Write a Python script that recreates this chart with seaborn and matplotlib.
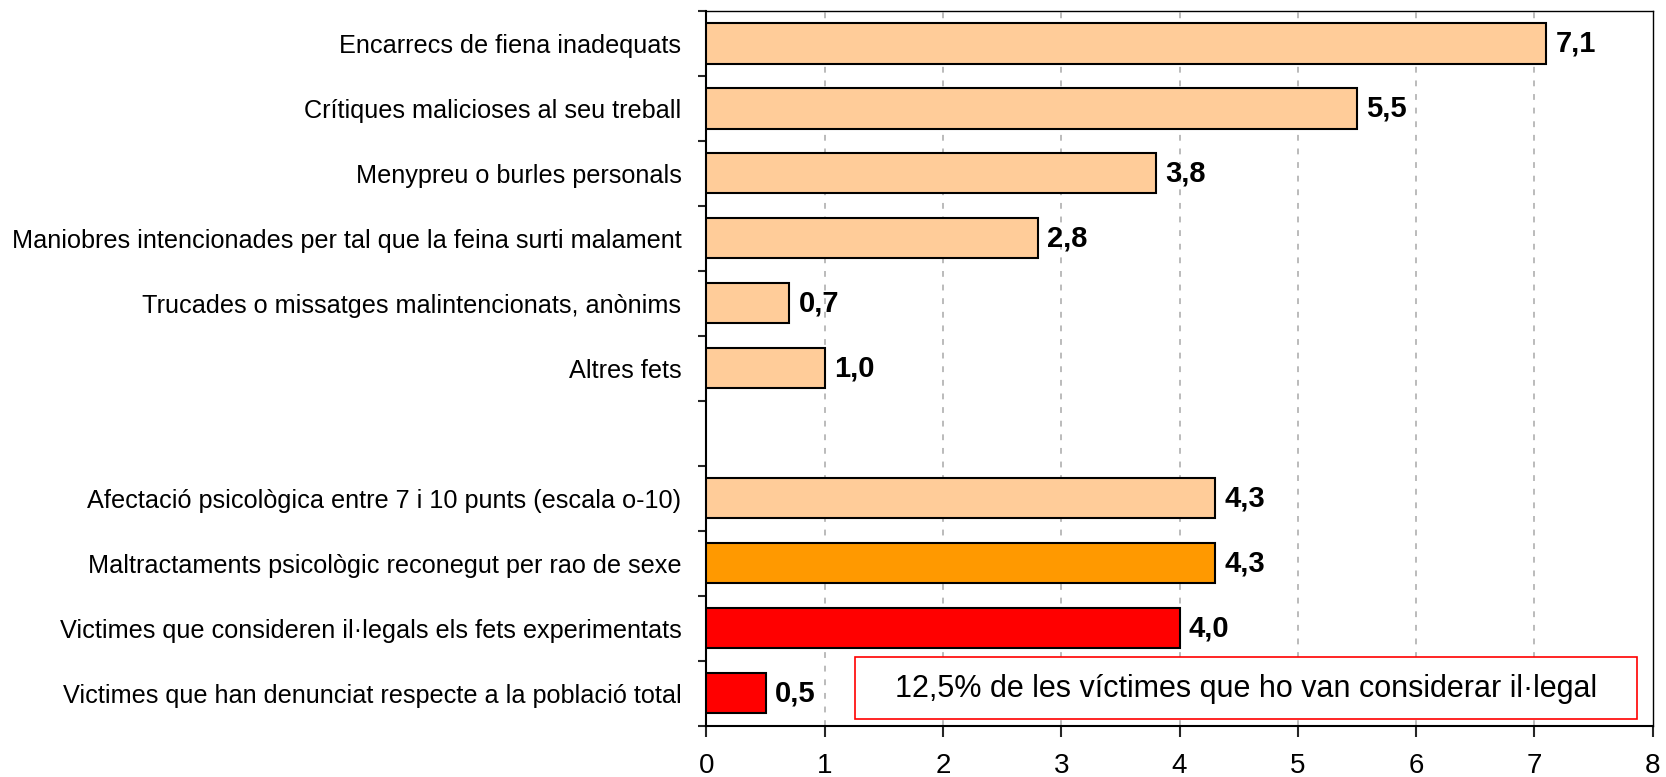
import numpy as np
import pandas as pd
import matplotlib
matplotlib.use("Agg")
import matplotlib.pyplot as plt
import matplotlib.patches as mpatches
import seaborn as sns

# --- dades ---
categories = [
    "Encarrecs de fiena inadequats",
    "Crítiques malicioses al seu treball",
    "Menypreu o burles personals",
    "Maniobres intencionades per tal que la feina surti malament",
    "Trucades o missatges malintencionats, anònims",
    "Altres fets",
    " ",
    "Afectació psicològica entre 7 i 10 punts (escala o-10)",
    "Maltractaments psicològic reconegut per rao de sexe",
    "Victimes que consideren il·legals els fets experimentats",
    "Victimes que han denunciat respecte a la població total",
]
values = [7.1, 5.5, 3.8, 2.8, 0.7, 1.0, np.nan, 4.3, 4.3, 4.0, 0.5]
colors = ["#FFCC99"] * 7 + ["#FFCC99", "#FF9900", "#FF0000", "#FF0000"]
note = "12,5% de les víctimes que ho van considerar il·legal"

df = pd.DataFrame({"cat": categories, "val": values})

sns.set_style("white")
plt.rcParams["font.family"] = ["Liberation Sans", "DejaVu Sans"]

fig = plt.figure(figsize=(16.66, 7.77), dpi=100)
ax = fig.add_axes([0.424, 0.066, 0.568, 0.920])

sns.barplot(data=df, y="cat", x="val", hue="cat", palette=colors, order=categories,
            legend=False, orient="h", width=0.62, saturation=1, edgecolor="black",
            linewidth=1.5, ax=ax, zorder=3)

ax.set_xlim(0, 8)
ax.set_ylim(len(categories) - 0.5, -0.5)
ax.set_xlabel("")
ax.set_ylabel("")

# gridlines
for gx in range(1, 8):
    ax.axvline(gx, color="#BBBBBB", linestyle=(0, (3, 4)), linewidth=1.4, zorder=1)

# ticks
ax.set_xticks(range(0, 9))
ax.tick_params(axis="x", labelsize=20, length=8, width=1.5, direction="out", pad=12,
               bottom=True, labelcolor="black")
ax.set_yticks(range(len(categories)))
ax.set_yticklabels(categories)
ax.tick_params(axis="y", which="major", length=0, labelsize=18.2, pad=18, labelcolor="black")
ax.set_yticks(np.arange(-0.5, len(categories)), minor=True)
ax.tick_params(axis="y", which="minor", length=6, width=1.5, direction="out", left=True)

for side in ["left", "bottom"]:
    ax.spines[side].set_linewidth(1.5)
    ax.spines[side].set_color("black")
for side in ["top", "right"]:
    ax.spines[side].set_linewidth(1.0)
    ax.spines[side].set_color("black")

# value labels
for i, v in enumerate(values):
    if np.isnan(v):
        continue
    ax.text(v + 0.08, i, f"{v:.1f}".replace(".", ","), va="center", ha="left",
            fontsize=21, fontweight="bold", color="black", zorder=4)

# note box
box = mpatches.Rectangle((1.26, 9.45), 6.61, 0.94, facecolor="white",
                         edgecolor="#FF0000", linewidth=1.2, zorder=5)
ax.add_patch(box)
ax.text(4.565, 9.93, note, ha="center", va="center", fontsize=22, color="black", zorder=6)

fig.savefig("out.png", dpi=100)
